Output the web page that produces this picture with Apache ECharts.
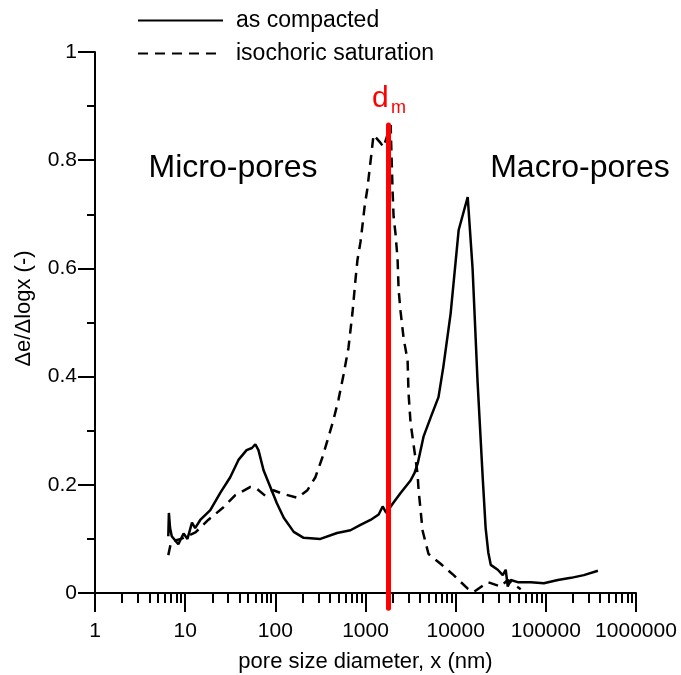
<!DOCTYPE html>
<html>
<head>
<meta charset="utf-8">
<script src="https://cdn.jsdelivr.net/npm/echarts@6/dist/echarts.min.js"></script>
<style>html,body{margin:0;padding:0;background:#fff}#c{width:681px;height:675px}</style>
</head>
<body>
<div id="c"></div>
<script>
// ---- data ----
const compactedX = [6.5, 6.6, 6.8, 7.1, 8.4, 9.6, 10.6, 11.9, 12.9, 14.7, 19, 24.5, 31.6, 39, 48, 55, 60, 65, 74, 88, 104, 124, 160, 206, 316, 484, 681, 880, 1136, 1400, 1550, 1700, 2000, 2450, 3160, 3500, 3800, 4400, 5300, 6450, 7300, 8800, 10800, 13600, 15400, 17500, 20000, 21500, 23000, 24500, 29300, 33300, 35900, 37800, 40800, 48800, 68100, 95000, 136000, 190000, 264000, 378000];
const compactedY = [0.105, 0.148, 0.12, 0.105, 0.09, 0.11, 0.10, 0.13, 0.12, 0.135, 0.153, 0.185, 0.214, 0.246, 0.264, 0.268, 0.275, 0.264, 0.227, 0.196, 0.166, 0.139, 0.113, 0.102, 0.10, 0.111, 0.116, 0.126, 0.135, 0.145, 0.16, 0.148, 0.165, 0.185, 0.208, 0.222, 0.24, 0.289, 0.325, 0.362, 0.418, 0.517, 0.671, 0.732, 0.6, 0.39, 0.21, 0.12, 0.075, 0.052, 0.043, 0.033, 0.043, 0.012, 0.024, 0.02, 0.02, 0.018, 0.024, 0.028, 0.033, 0.041];
const saturationX = [6.5, 7, 9, 13, 18, 26, 36, 53, 63, 77, 95, 123, 176, 227, 278, 333, 388, 441, 501, 570, 647, 717, 774, 815, 880, 926, 975, 1053, 1108, 1166, 1227, 1468, 1585, 1900, 1950, 2000, 2050, 2150, 2270, 2330, 2450, 2650, 2930, 3000, 3160, 3410, 3780, 3880, 4300, 5000, 6800, 9500, 13600, 15850, 22700, 31600, 37800, 52700];
const saturationY = [0.07, 0.095, 0.10, 0.112, 0.135, 0.157, 0.181, 0.196, 0.192, 0.18, 0.19, 0.183, 0.176, 0.19, 0.214, 0.251, 0.288, 0.32, 0.357, 0.403, 0.453, 0.518, 0.579, 0.616, 0.649, 0.68, 0.713, 0.749, 0.782, 0.813, 0.847, 0.832, 0.824, 0.865, 0.80, 0.74, 0.695, 0.665, 0.616, 0.56, 0.52, 0.47, 0.43, 0.37, 0.315, 0.275, 0.22, 0.19, 0.115, 0.072, 0.054, 0.033, 0.008, 0.002, 0.02, 0.012, 0.024, 0.007];
const dmX = [1800, 1800];
const dmY = [-0.028, 0.865];
const xMajorTicks = [1, 10, 100, 1000, 10000, 100000, 1000000];
const xMinorMultipliers = [2, 3, 4, 5, 6, 7, 8, 9];
const seriesNames = ['as compacted', 'isochoric saturation'];

const xMinorTicks = [];
xMajorTicks.slice(0, -1).forEach(d => xMinorMultipliers.forEach(k => xMinorTicks.push(k * d)));
const zip = (xs, ys) => xs.map((x, i) => [x, ys[i]]);

const FONT = 'Liberation Sans, Arial, sans-serif';
const chart = echarts.init(document.getElementById('c'), null, {renderer: 'canvas'});
chart.setOption({
  backgroundColor: '#ffffff',
  animation: false,
  grid: {left: 95, right: 45, top: 52, bottom: 82, outerBoundsMode: 'none'},
  legend: {
    orient: 'vertical', left: 132, top: 4, itemWidth: 85, itemHeight: 20, itemGap: 10,
    data: seriesNames,
    itemStyle: {opacity: 0},
    textStyle: {fontFamily: FONT, fontSize: 23, color: '#000', lineHeight: 20, padding: [0, 0, 0, 8]}
  },
  xAxis: [{
    type: 'log', logBase: 10, min: 1, max: 1000000, position: 'bottom',
    name: 'pore size diameter, x (nm)', nameLocation: 'middle', nameGap: 58,
    nameTextStyle: {fontFamily: FONT, fontSize: 22, color: '#000'},
    axisLine: {show: true, onZero: false, lineStyle: {color: '#000', width: 2}},
    axisTick: {show: true, length: 19, lineStyle: {color: '#000', width: 2}, customValues: xMajorTicks},
    axisLabel: {fontFamily: FONT, fontSize: 21, color: '#000', margin: 28, customValues: xMajorTicks, formatter: v => String(Math.round(v))},
    splitLine: {show: false}
  }, {
    type: 'log', logBase: 10, min: 1, max: 1000000, position: 'bottom',
    axisLine: {show: false, onZero: false},
    axisTick: {show: true, length: 10, lineStyle: {color: '#000', width: 2}, customValues: xMinorTicks},
    axisLabel: {show: false},
    splitLine: {show: false}
  }],
  yAxis: {
    type: 'value', min: 0, max: 1, interval: 0.2,
    name: 'Δe/Δlogx (-)', nameLocation: 'middle', nameGap: 60,
    nameTextStyle: {fontFamily: FONT, fontSize: 22, color: '#000', padding: [0, 0, 0, 28]},
    axisLine: {show: true, onZero: false, lineStyle: {color: '#000', width: 2}},
    axisTick: {show: true, length: 17, lineStyle: {color: '#000', width: 2}},
    minorTick: {show: true, splitNumber: 2, length: 8, lineStyle: {color: '#000', width: 2}},
    axisLabel: {fontFamily: FONT, fontSize: 21, color: '#000', margin: 18},
    splitLine: {show: false}
  },
  series: [{
    name: seriesNames[0], type: 'line', xAxisIndex: 0, data: zip(compactedX, compactedY),
    symbol: 'none', lineStyle: {color: '#000', width: 2.5}, itemStyle: {color: '#000'}
  }, {
    name: seriesNames[1], type: 'line', xAxisIndex: 0, data: zip(saturationX, saturationY),
    symbol: 'none', lineStyle: {color: '#000', width: 2.5, type: [10, 7]}, itemStyle: {color: '#000'}
  }, {
    name: 'dm', type: 'line', xAxisIndex: 0, data: zip(dmX, dmY), clip: false,
    symbol: 'none', lineStyle: {color: '#ff0000', width: 5, cap: 'round'}, z: 5
  }],
  graphic: [
    {type: 'text', x: 233, y: 168, style: {text: 'Micro-pores', font: '32px ' + FONT, fill: '#000', align: 'center', verticalAlign: 'middle'}},
    {type: 'text', x: 580, y: 168, style: {text: 'Macro-pores', font: '32px ' + FONT, fill: '#000', align: 'center', verticalAlign: 'middle'}},
    {type: 'text', x: 372, y: 99, style: {text: 'd', font: '30px ' + FONT, fill: '#ff0000', align: 'left', verticalAlign: 'middle'}},
    {type: 'text', x: 391, y: 108, style: {text: 'm', font: '18px ' + FONT, fill: '#ff0000', align: 'left', verticalAlign: 'middle'}}
  ]
});
</script>
</body>
</html>
